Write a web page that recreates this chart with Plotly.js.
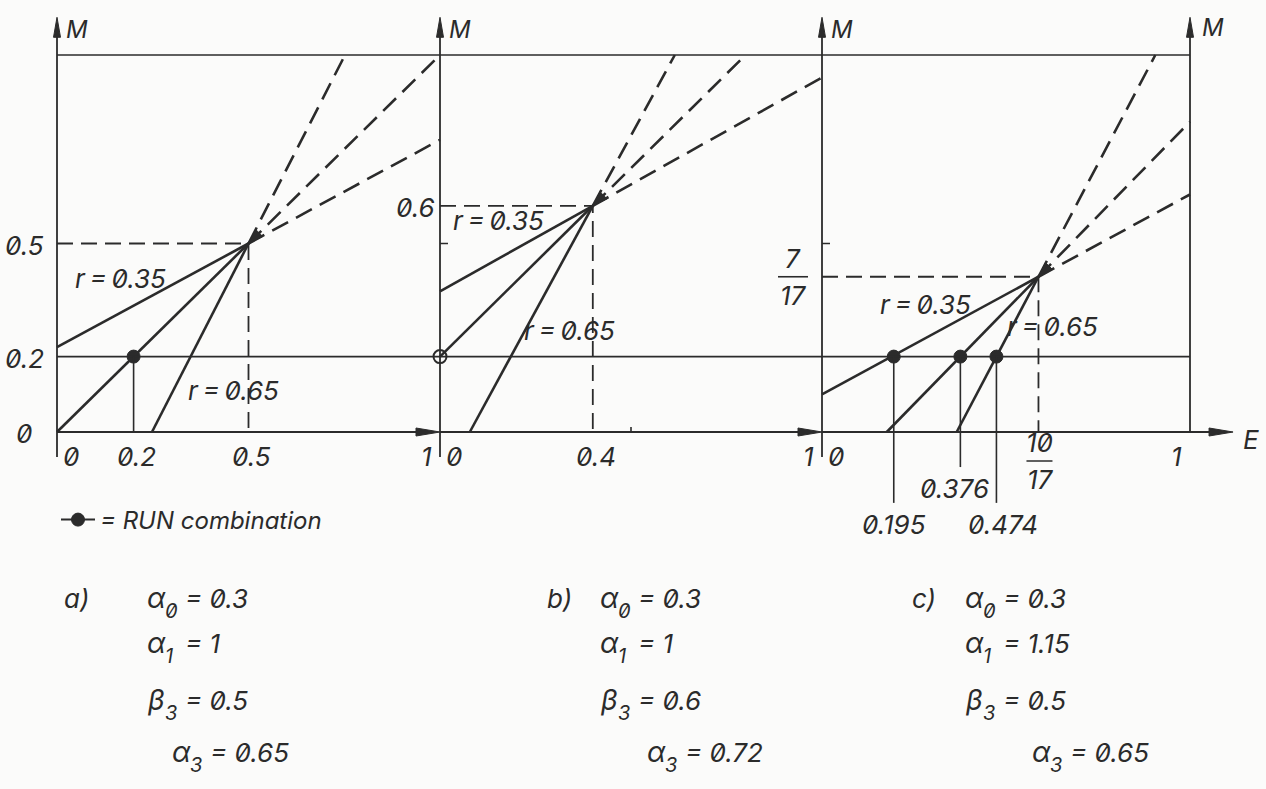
<!DOCTYPE html>
<html>
<head>
<meta charset="utf-8">
<script src="https://cdn.plot.ly/plotly-3.0.1.min.js"></script>
<style>
  html, body { margin: 0; padding: 0; background: #fbfbfa; }
  #chart { width: 1266px; height: 789px; }
  #chart text { font-feature-settings: "zero" 1; }
</style>
</head>
<body>
<div id="chart"></div>
<script>
// ---- data -------------------------------------------------------------
// Point where the three load lines of each case meet (E, M)
const commonE = [0.5, 0.4, 10 / 17];
const commonM = [0.5, 0.6, 7 / 17];
// Start of each load line: r = 0.35, r = 0.5 (diagonal), r = 0.65
const lineStartE = [[0, 0, 0.248], [0, 0, 0.078], [0, 0.176, 0.366]];
const lineStartM = [[0.225, 0, 0], [0.373, 0.2, 0], [0.1, 0, 0]];
// RUN combination points
const runE = [[0.2], [0], [0.195, 0.376, 0.474]];
const runM = [[0.2], [0.2], [0.2, 0.2, 0.2]];
const runLabels = ['0.195', '0.376', '0.474'];
const levelM = 0.2;
// Axis tick labels
const xTickVals = [[0, 0.2, 0.5, 1], [0, 0.4, 1], [0, 1]];
const xTickText = [['0', '0.2', '0.5', '1'], ['0', '0.4', '1'], ['0', '1']];
const yTickVals = [[0, 0.2, 0.5], [0.6], []];
const yTickText = [['0', '0.2', '0.5'], ['0.6'], []];
// Case parameters
const caseNames = ['a)', 'b)', 'c)'];
const alpha0 = ['0.3', '0.3', '0.3'];
const alpha1 = ['1', '1', '1.15'];
const beta3 = ['0.5', '0.6', '0.5'];
const alpha3 = ['0.65', '0.72', '0.65'];
const rNames = ['r\u2009=\u20090.35', 'r\u2009=\u20090.65'];

// ---- layout geometry --------------------------------------------------
const W = 1266, H = 789;
const ink = '#2b2b2b';
const FONT = 'Inter, "DejaVu Sans", sans-serif';
const panelLeftPx = [57, 440, 822];
const panelRightPx = [440, 822, 1190];
const rowZeroPx = 432, rowOnePx = 55;
const eRange = [[-0.14, 1.16], [-0.2, 1.2], [-0.2, 1.18]];
const mRange = [-0.25, 1.12];
const kM = rowZeroPx - rowOnePx;
const kE = panelLeftPx.map((l, i) => panelRightPx[i] - l);
const xid = i => (i === 0 ? 'x' : 'x' + (i + 1));
const font = size => ({ family: FONT, size: size, color: ink, style: 'italic' });

const layout = {
  width: W, height: H, autosize: false,
  margin: { l: 0, r: 0, t: 0, b: 0 },
  paper_bgcolor: '#fbfbfa', plot_bgcolor: 'rgba(0,0,0,0)',
  font: font(24),
  showlegend: true,
  legend: {
    x: 56 / W, y: 1 - 520 / H, xanchor: 'left', yanchor: 'middle',
    bgcolor: 'rgba(0,0,0,0)', borderwidth: 0, itemwidth: 34, font: font(24)
  },
  yaxis: {
    range: mRange, anchor: 'x', visible: false, fixedrange: true,
    domain: [1 - (rowZeroPx - mRange[0] * kM) / H, 1 - (rowZeroPx - mRange[1] * kM) / H]
  },
  shapes: [], annotations: []
};
for (let i = 0; i < 3; i++) {
  const key = i === 0 ? 'xaxis' : 'xaxis' + (i + 1);
  layout[key] = {
    range: eRange[i], anchor: 'y', visible: false, fixedrange: true,
    domain: [(panelLeftPx[i] + eRange[i][0] * kE[i]) / W, (panelLeftPx[i] + eRange[i][1] * kE[i]) / W]
  };
}

const shapes = layout.shapes, ann = layout.annotations;
function seg(i, e0, m0, e1, m1, w) {
  shapes.push({ type: 'line', xref: xid(i), yref: 'y', x0: e0, y0: m0, x1: e1, y1: m1,
    line: { color: ink, width: w || 1.7 } });
}
// filled triangle with its tip at (tipE, tipM); (ux, uy) points from tip to base in screen px (y up)
function pointer(i, tipE, tipM, ux, uy, lenPx, halfPx) {
  const bx = ux * lenPx, by = uy * lenPx, px = -uy * halfPx, py = ux * halfPx;
  const pt = (dx, dy) => `${tipE + dx / kE[i]},${tipM + dy / kM}`;
  shapes.push({ type: 'path', xref: xid(i), yref: 'y',
    path: `M${pt(0, 0)} L${pt(bx + px, by + py)} L${pt(bx - px, by - py)} Z`,
    fillcolor: ink, line: { color: ink, width: 1 } });
}
function label(i, e, m, text, opt) {
  ann.push(Object.assign({ xref: xid(i), yref: 'y', x: e, y: m, text: text, showarrow: false,
    font: font(26) }, opt || {}));
}
function paperText(px, py, text, size) {
  ann.push({ xref: 'paper', yref: 'paper', x: px / W, y: 1 - py / H, text: text,
    showarrow: false, xanchor: 'left', yanchor: 'middle', font: font(size || 26) });
}

const arrowTipM = 1.1;
const xArrowTip = [1, 1, 1.117];
const traces = [];

for (let i = 0; i < 3; i++) {
  const x = xid(i);
  const PE = commonE[i], PM = commonM[i];

  // frame: vertical M axis, top line, level line, horizontal E axis
  seg(i, 0, -0.066, 0, arrowTipM - 0.03, 1.8);
  pointer(i, 0, arrowTipM, 0, -1, 20, 3.5);
  seg(i, 0, 1, 1, 1, 1.6);
  seg(i, 0, levelM, 1, levelM, 1.6);
  seg(i, 0, 0, xArrowTip[i] - 0.03, 0, 1.8);
  pointer(i, xArrowTip[i], 0, -1, 0, 24, 4);
  label(i, 0, arrowTipM, 'M', { xanchor: 'left', yanchor: 'top', xshift: 7, yshift: 4, font: font(24) });
  if (i === 2) {
    seg(i, 1, 0, 1, arrowTipM - 0.03, 1.8);
    pointer(i, 1, arrowTipM, 0, -1, 20, 3.5);
    label(i, 1, arrowTipM, 'M', { xanchor: 'left', yanchor: 'top', xshift: 10, yshift: 6, font: font(24) });
    label(i, xArrowTip[i], 0, 'E', { xanchor: 'left', yanchor: 'middle', xshift: 8, yshift: -8 });
  }
  if (i > 0) seg(i, 0, 0.5, 8 / kE[i], 0.5, 1.6);   // small tick at M = 0.5
  if (i === 1) seg(i, 0.5, 0, 0.5, 5 / kM, 1.6);     // small tick at E = 0.5

  // guide lines to the common point
  traces.push({ x: [0, PE, PE], y: [PM, PM, 0], xaxis: x, yaxis: 'y', mode: 'lines',
    line: { color: ink, width: 1.8, dash: '16px,8px' }, hoverinfo: 'skip', showlegend: false });

  // load lines: solid up to the common point, dashed beyond it up to the frame
  const sx = [], sy = [], dx = [], dy = [];
  for (let k = 0; k < 3; k++) {
    const e0 = lineStartE[i][k], m0 = lineStartM[i][k];
    const s = (PM - m0) / (PE - e0);
    let eEnd = PE + (1 - PM) / s, mEnd = 1;
    if (eEnd > 1) { eEnd = 1; mEnd = PM + s * (1 - PE); }
    sx.push(e0, PE, null); sy.push(m0, PM, null);
    dx.push(PE, eEnd, null); dy.push(PM, mEnd, null);
  }
  traces.push({ x: sx, y: sy, xaxis: x, yaxis: 'y', mode: 'lines',
    line: { color: ink, width: 2.6 }, hoverinfo: 'skip', showlegend: false });
  traces.push({ x: dx, y: dy, xaxis: x, yaxis: 'y', mode: 'lines',
    line: { color: ink, width: 2.6, dash: '18px,9px' }, hoverinfo: 'skip', showlegend: false });

  // arrow mark at the common point, coming down the diagonal line
  const sMid = (PM - lineStartM[i][1]) / (PE - lineStartE[i][1]);
  const vx = kE[i], vy = sMid * kM, vl = Math.hypot(vx, vy);
  pointer(i, PE, PM, vx / vl, vy / vl, 15, 5);

  // RUN combination points
  traces.push({ x: runE[i], y: runM[i], xaxis: x, yaxis: 'y',
    mode: i === 0 ? 'lines+markers' : 'markers', name: '= RUN combination', showlegend: i === 0,
    line: { color: ink, width: 2 },
    marker: i === 1
      ? { symbol: 'circle-open', size: 13, color: ink, line: { width: 2, color: ink } }
      : { symbol: 'circle', size: 13, color: ink, line: { width: 1, color: ink } },
    hoverinfo: 'skip' });

  // E tick labels
  xTickVals[i].forEach((v, j) => {
    const opt = { yanchor: 'top', yshift: -7 };
    if (v === 0) { opt.xanchor = 'left'; opt.xshift = 4; }
    else if (v === 1) { opt.xanchor = 'right'; opt.xshift = -6; }
    else { opt.xanchor = 'center'; opt.xshift = 3; }
    label(i, v, 0, xTickText[i][j], opt);
  });
  // M tick labels
  yTickVals[i].forEach((v, j) => {
    label(i, 0, v, yTickText[i][j], { xanchor: 'center', xshift: i === 0 ? -32 : -25, yshift: -2 });
  });
}

// panel a: leader from the RUN point to the E axis
seg(0, runE[0][0], runM[0][0], runE[0][0], 0, 1.6);
// panel c: leaders from the RUN points down to their values
const leaderLow = [-0.188, -0.093, -0.188];
const leaderShift = [0, -6, 7];
runE[2].forEach((e, j) => {
  seg(2, e, runM[2][j], e, leaderLow[j], 1.6);
  label(2, e, leaderLow[j], runLabels[j], { xanchor: 'center', yanchor: 'top', xshift: leaderShift[j], yshift: -4 });
});

// fractions 7/17 (M) and 10/17 (E) in panel c
label(2, 0, commonM[2], '7', { xanchor: 'center', yanchor: 'bottom', xshift: -29, yshift: 1 });
label(2, 0, commonM[2], '17', { xanchor: 'center', yanchor: 'top', xshift: -29, yshift: -1 });
seg(2, -44 / kE[2], commonM[2], -14 / kE[2], commonM[2], 1.6);
const fracM = -29 / kM;
label(2, commonE[2], fracM, '10', { xanchor: 'center', yanchor: 'bottom', xshift: 2, yshift: 1 });
label(2, commonE[2], fracM, '17', { xanchor: 'center', yanchor: 'top', xshift: 2, yshift: -1 });
seg(2, commonE[2] - 12 / kE[2], fracM, commonE[2] + 14 / kE[2], fracM, 1.6);

// r labels next to the lines
const rPos = [
  [[0.165, 0.408], [0.46, 0.111]],
  [[0.154, 0.562], [0.34, 0.27]],
  [[0.28, 0.337], [0.625, 0.279]]
];
for (let i = 0; i < 3; i++) {
  rNames.forEach((t, k) => label(i, rPos[i][k][0], rPos[i][k][1], t, { xanchor: 'center', yanchor: 'middle' }));
}

// case parameter blocks: symbol, lowered index, then "= value"
const labelPx = [62, 545, 910], paramPx = [145, 598, 963], a3Px = [170, 645, 1030];
const rowPx = [598, 643, 700, 752];
function param(px, py, sym, idx, value) {
  paperText(px, py, sym, 28);
  paperText(px + 18, py + 13, idx, 20);
  paperText(px + 38, py, '= ' + value, 26);
}
for (let i = 0; i < 3; i++) {
  paperText(labelPx[i], rowPx[0], caseNames[i], 26);
  param(paramPx[i], rowPx[0], 'α', '0', alpha0[i]);
  param(paramPx[i], rowPx[1], 'α', '1', alpha1[i]);
  param(paramPx[i], rowPx[2], 'β', '3', beta3[i]);
  param(a3Px[i], rowPx[3], 'α', '3', alpha3[i]);
}

Plotly.newPlot('chart', traces, layout, { staticPlot: true, displayModeBar: false });
</script>
</body>
</html>
